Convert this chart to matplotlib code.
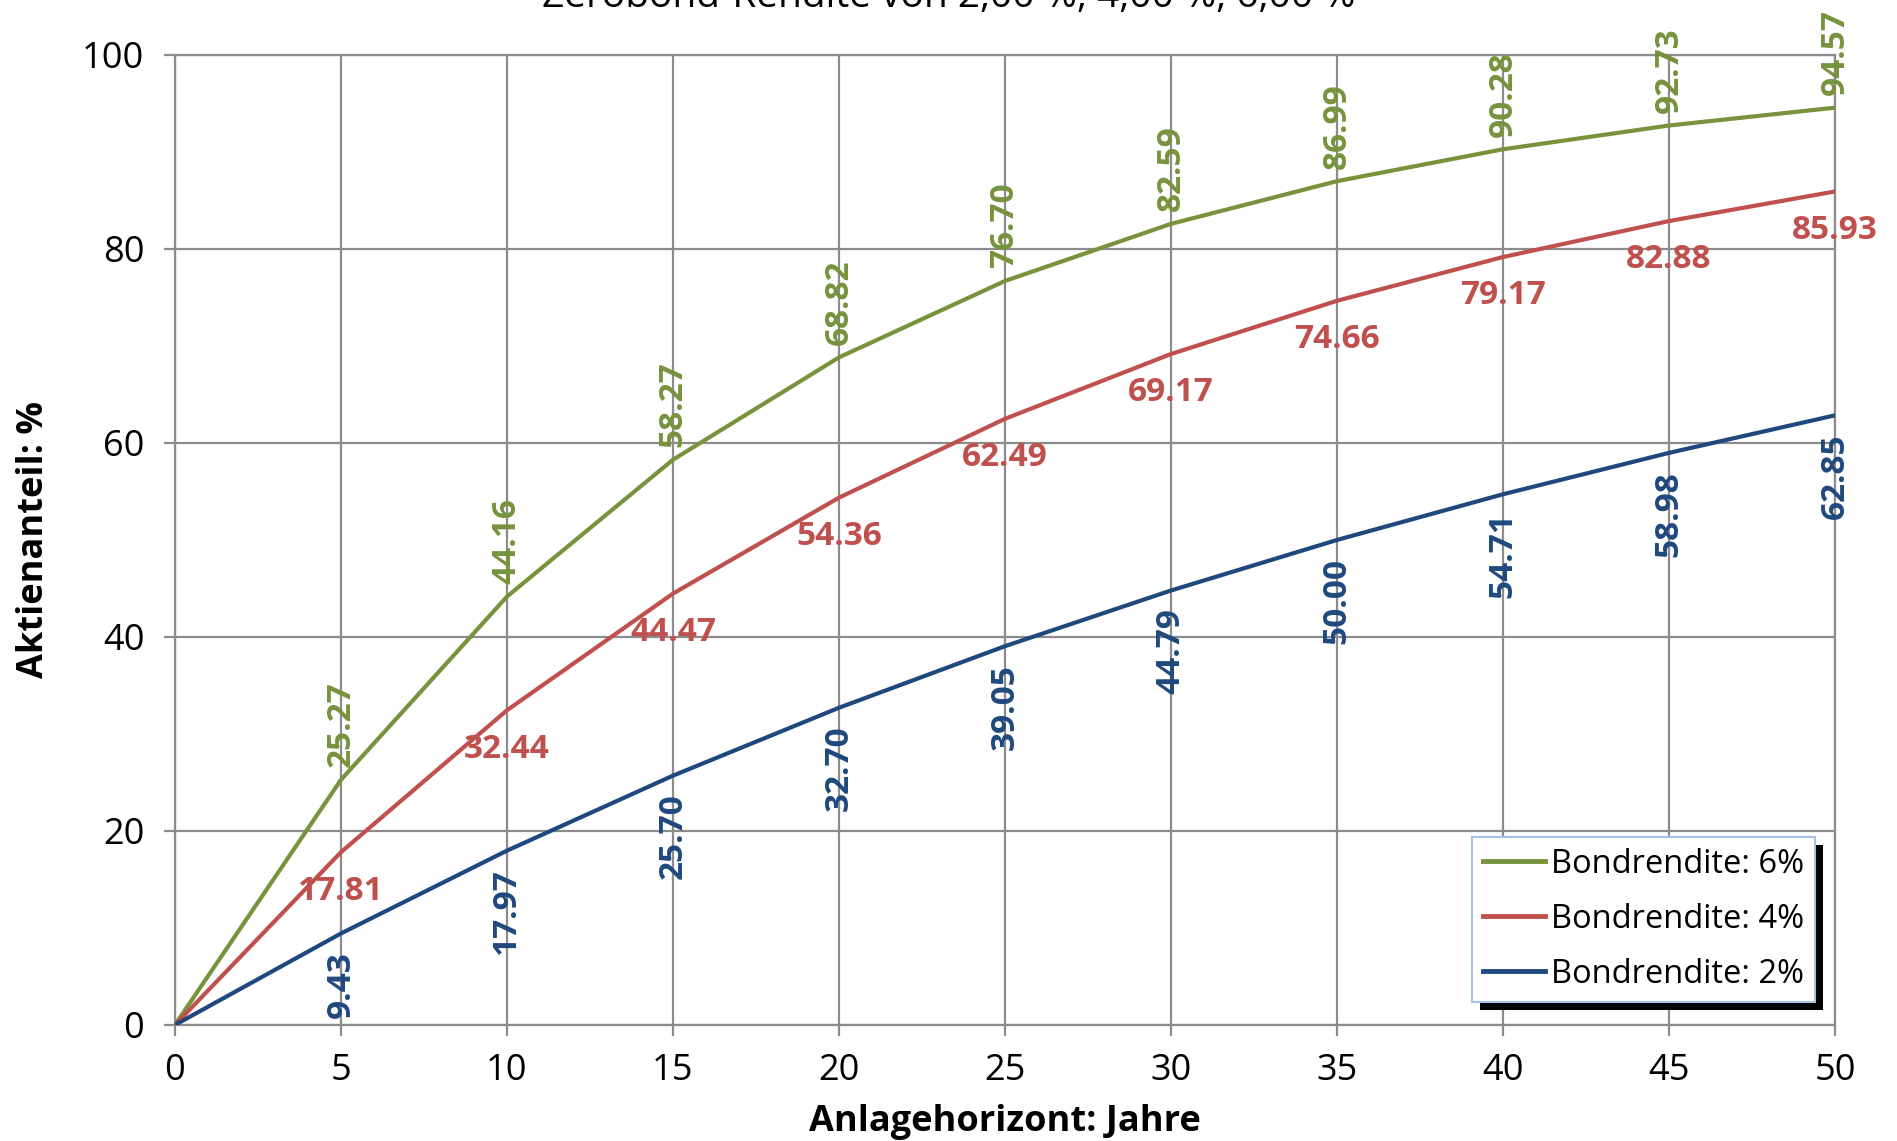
import matplotlib
matplotlib.use("Agg")
import matplotlib.pyplot as plt
import matplotlib.patheffects as pe

plt.rcParams["font.family"] = ["Open Sans", "DejaVu Sans"]

# Anlagehorizont in Jahren und Aktienanteil je Bondrendite
years = [0, 5, 10, 15, 20, 25, 30, 35, 40, 45, 50]
share_6 = [0, 25.27, 44.16, 58.27, 68.82, 76.70, 82.59, 86.99, 90.28, 92.73, 94.57]
share_4 = [0, 17.81, 32.44, 44.47, 54.36, 62.49, 69.17, 74.66, 79.17, 82.88, 85.93]
share_2 = [0, 9.43, 17.97, 25.70, 32.70, 39.05, 44.79, 50.00, 54.71, 58.98, 62.85]

green = "#77933C"
red = "#C0504D"
blue = "#1F497D"
grid_col = "#8C8C8C"

fig = plt.figure(figsize=(18.97, 11.41), dpi=100)
ax = fig.add_axes([0.0922, 0.1017, 0.8751, 0.8501])

ax.plot(years, share_6, color=green, lw=3, label="Bondrendite: 6%", zorder=3)
ax.plot(years, share_4, color=red, lw=3, label="Bondrendite: 4%", zorder=3)
ax.plot(years, share_2, color=blue, lw=3, label="Bondrendite: 2%", zorder=3)

lab_kw = dict(textcoords="offset points", fontsize=24, fontweight="bold", ha="center")
for x, y in zip(years[1:], share_6[1:]):
    ax.annotate(f"{y:.2f}", (x, y), xytext=(0, 9), va="bottom", rotation=90,
                color=green, **lab_kw)
for x, y in zip(years[1:], share_4[1:]):
    ax.annotate(f"{y:.2f}", (x, y), xytext=(0, -28), va="center",
                color=red, **lab_kw)
for x, y in zip(years[1:], share_2[1:]):
    ax.annotate(f"{y:.2f}", (x, y), xytext=(0, -13), va="top", rotation=90,
                color=blue, **lab_kw)

ax.set_xlim(0, 50)
ax.set_ylim(0, 100)
ax.set_xticks(range(0, 51, 5))
ax.set_yticks(range(0, 101, 20))
ax.grid(True, color=grid_col, lw=1.6, zorder=0)
ax.set_axisbelow(True)
for s in ax.spines.values():
    s.set_color(grid_col)
    s.set_linewidth(1.6)
ax.tick_params(axis="both", colors=grid_col, labelcolor="black", labelsize=26,
               length=8, width=1.6)
ax.tick_params(axis="x", pad=12)
ax.tick_params(axis="y", pad=14)

ax.set_xlabel("Anlagehorizont: Jahre", fontsize=26, fontweight="bold", labelpad=11)
ax.set_ylabel("Aktienanteil: %", fontsize=26, fontweight="bold", labelpad=22)

fig.text(0.5, 0.994, "Zerobond-Rendite von 2,00 %, 4,00 %, 6,00 %",
         ha="center", va="baseline", fontsize=28)

leg = ax.legend(loc="lower right", bbox_to_anchor=(0.988, 0.024), borderaxespad=0,
                fontsize=23.5, frameon=True, fancybox=False, handlelength=1.9,
                handletextpad=0.2, labelspacing=0.68, borderpad=0.33, framealpha=1)
leg.get_frame().set_edgecolor("#A7C0E8")
leg.get_frame().set_linewidth(1.5)
leg.get_frame().set_path_effects([pe.withSimplePatchShadow(offset=(6, -6),
                                                           shadow_rgbFace="black",
                                                           alpha=1.0)])
for h in leg.get_lines():
    h.set_linewidth(3.5)
leg.set_zorder(5)

fig.savefig("out.png", dpi=100)
